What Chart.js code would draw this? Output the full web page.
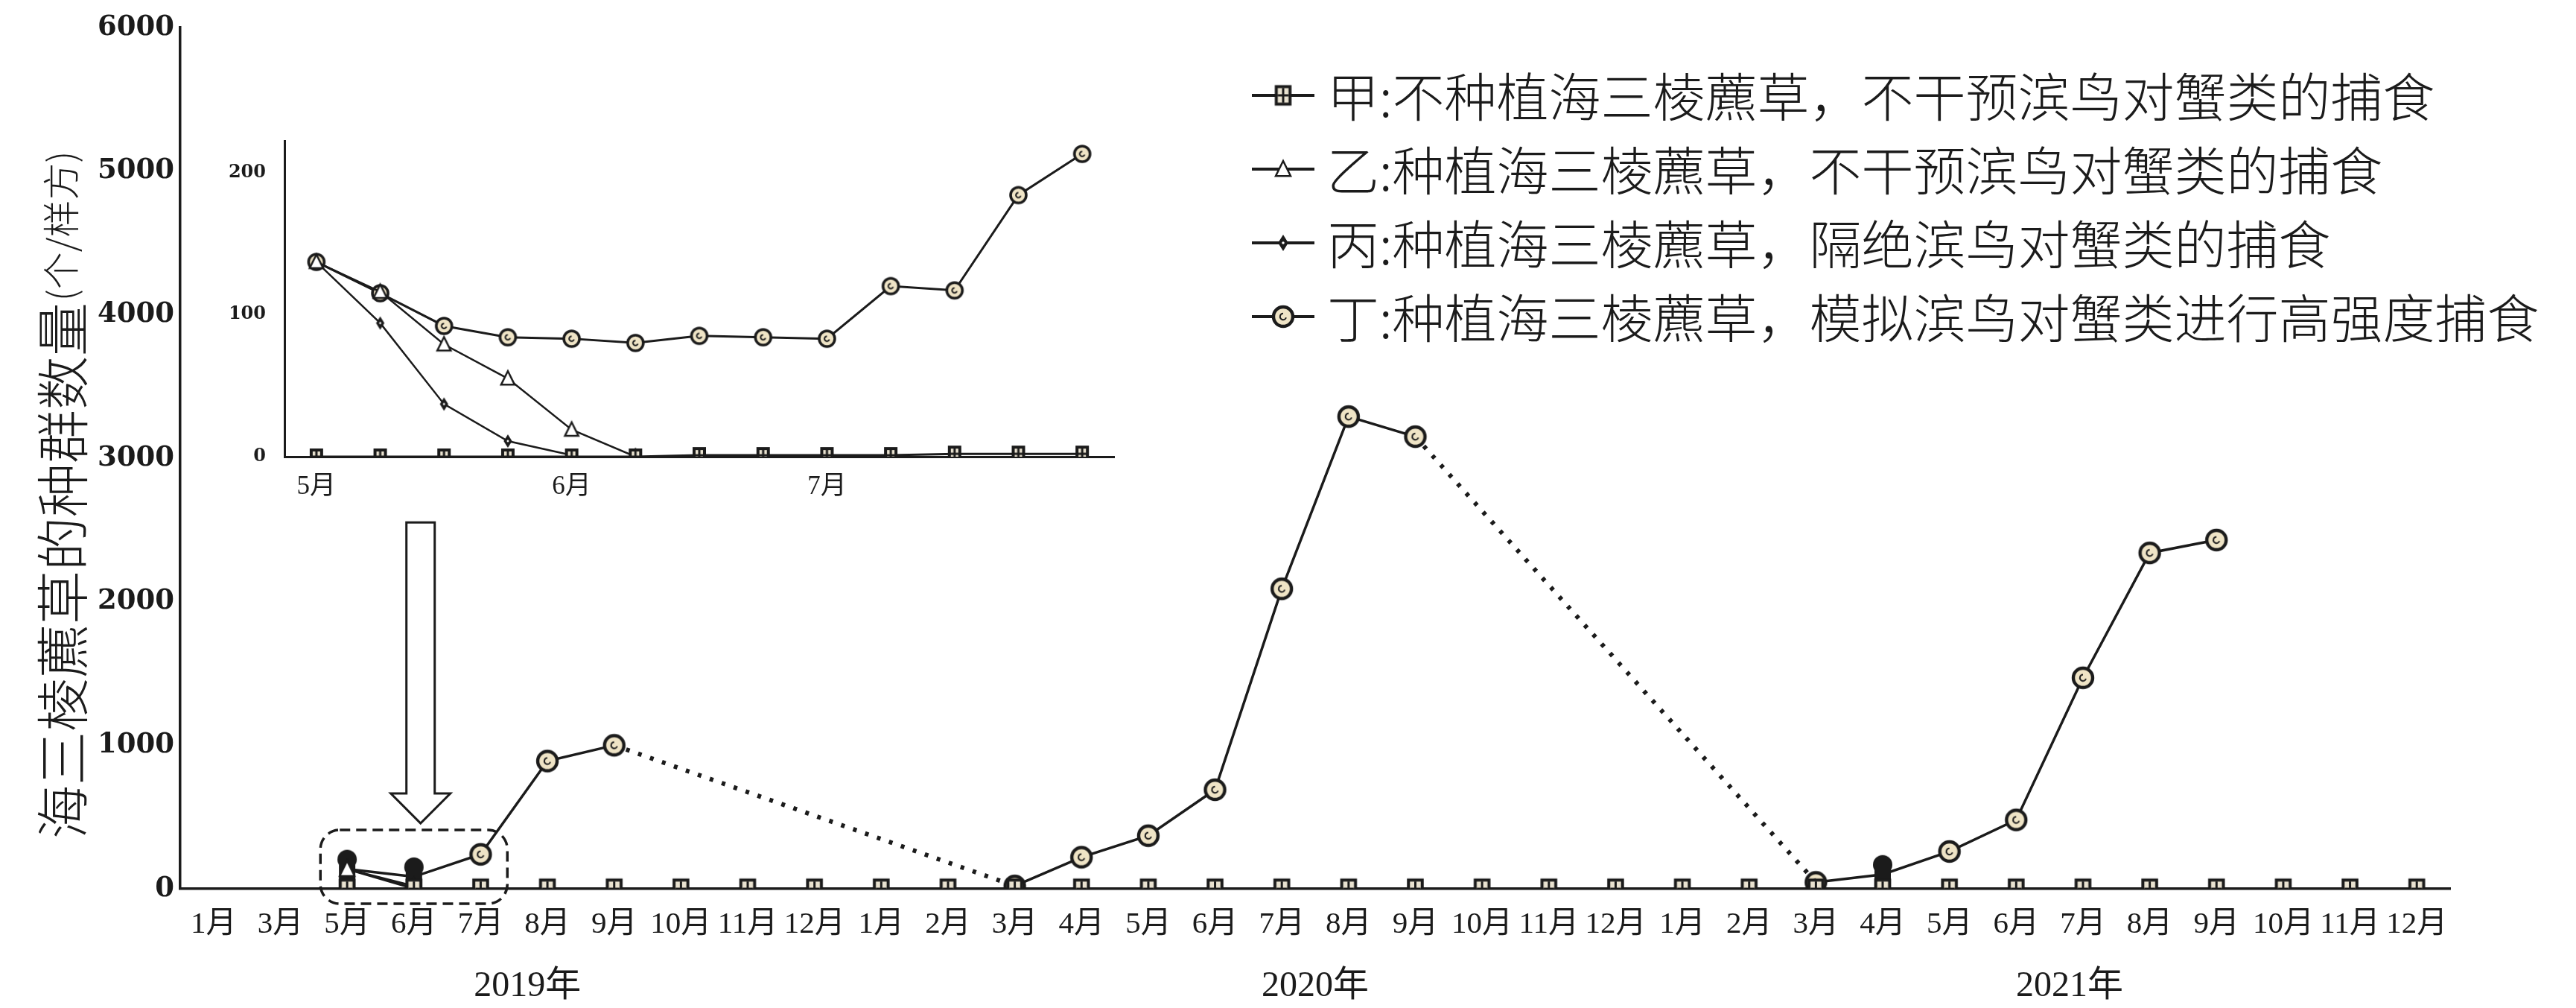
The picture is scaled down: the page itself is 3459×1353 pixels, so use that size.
<!DOCTYPE html>
<html>
<head>
<meta charset="utf-8">
<script src="https://cdn.jsdelivr.net/npm/chart.js@4.4.0/dist/chart.umd.min.js"></script>
<style>
  html, body { margin: 0; padding: 0; background: #fff; }
  #wrap { position: relative; width: 3459px; height: 1353px; background: #fff; }
  #mainChart { position: absolute; left: 0; top: 0; }
  #insetChart { position: absolute; left: 260px; top: 150px; }
</style>
</head>
<body>
<div id="wrap">
  <canvas id="mainChart" width="3459" height="1353"></canvas>
  <canvas id="insetChart" width="1260" height="540"></canvas>
</div>
<script>
// Data
const monthLabels = ['1月', '3月', '5月', '6月', '7月', '8月', '9月', '10月', '11月', '12月',
  '1月', '2月', '3月', '4月', '5月', '6月', '7月', '8月', '9月', '10月', '11月', '12月',
  '1月', '2月', '3月', '4月', '5月', '6月', '7月', '8月', '9月', '10月', '11月', '12月'];
const yearLabels = ['2019年', '2020年', '2021年'];
const yearLabelAt = [4.7, 16.5, 27.8];
const seriesNames = [
  '甲:不种植海三棱藨草，不干预滨鸟对蟹类的捕食',
  '乙:种植海三棱藨草，不干预滨鸟对蟹类的捕食',
  '丙:种植海三棱藨草，隔绝滨鸟对蟹类的捕食',
  '丁:种植海三棱藨草，模拟滨鸟对蟹类进行高强度捕食'
];
const yTitle = '海三棱藨草的种群数量';
const yTitleUnit = '(个/样方)';

const jiaMain = [null, null, 0, 0, 0, 0, 0, 0, 0, 0,
  0, 0, 0, 0, 0, 0, 0, 0, 0, 0, 0, 0,
  0, 0, 0, 0, 0, 0, 0, 0, 0, 0, 0, 0];
const yiMain = [null, null, 137, 18, null, null, null, null, null, null,
  null, null, null, null, null, null, null, null, null, null, null, null,
  null, null, null, null, null, null, null, null, null, null, null, null];
const bingMain = [null, null, 137, 1, null, null, null, null, null, null,
  null, null, null, null, null, null, null, null, null, null, null, null,
  null, null, null, null, null, null, null, null, null, null, null, null];
const dingMain = [null, null, 137, 84, 240, 890, 1000, null, null, null,
  null, null, 20, 220, 370, 690, 2090, 3290, 3150, null, null, null,
  null, null, 45, 100, 260, 480, 1470, 2340, 2430, null, null, null];

// inset (May - July 2019, roughly weekly)
const insetLabels = ['5月', '', '', '', '6月', '', '', '', '7月', '', '', '', ''];
const jiaInset = [0, 0, 0, 0, 0, 0, 1, 1, 1, 1, 2, 2, 2];
const yiInset = [137, 116, 79, 55, 19, 0, null, null, null, null, null, null, null];
const bingInset = [137, 94, 37, 11, 1, null, null, null, null, null, null, null, null];
const dingInset = [137, 115, 92, 84, 83, 80, 85, 84, 83, 120, 117, 184, 213];

const INK = '#1b1b1b';
const CREAM = '#efe4c6';

// Marker images
function makeMarker(kind, s) {
  const c = document.createElement('canvas');
  let w = s + 8, h = s + 10;
  if (kind === 'blob') { w = 30; h = 54; }
  c.width = w; c.height = h;
  const g = c.getContext('2d');
  const cx = w / 2, cy = h / 2;
  g.strokeStyle = INK;
  g.fillStyle = INK;
  if (kind === 'square') {
    const rw = s * 0.9, rh = s * 1.1;
    g.fillRect(cx - rw / 2, cy - rh / 2, rw, rh);
    g.fillStyle = '#e9e2d0';
    g.fillRect(cx - rw / 2 + 4, cy - rh / 2 + 4, rw - 8, rh - 8);
    g.fillStyle = INK;
    g.fillRect(cx - rw / 2 + 4, cy - 1.5, rw - 8, 3);
    g.fillRect(cx - 1.5, cy - rh / 2 + 4, 3, rh - 8);
  } else if (kind === 'circle') {
    g.beginPath();
    g.arc(cx, cy, s / 2, 0, Math.PI * 2);
    g.fillStyle = CREAM;
    g.fill();
    g.lineWidth = Math.max(3, s * 0.17);
    g.stroke();
    g.beginPath();
    g.lineWidth = 2;
    g.arc(cx, cy, s * 0.16, 0.3, Math.PI * 1.5);
    g.stroke();
  } else if (kind === 'tri') {
    g.beginPath();
    g.moveTo(cx, cy - s / 2);
    g.lineTo(cx + s / 2.2, cy + s / 2.4);
    g.lineTo(cx - s / 2.2, cy + s / 2.4);
    g.closePath();
    g.fillStyle = '#fff';
    g.fill();
    g.lineWidth = 2.5;
    g.stroke();
  } else if (kind === 'diamond') {
    g.beginPath();
    g.moveTo(cx, cy - s / 2);
    g.lineTo(cx + s / 3.2, cy);
    g.lineTo(cx, cy + s / 2);
    g.lineTo(cx - s / 3.2, cy);
    g.closePath();
    g.fill();
    g.fillStyle = '#fff';
    g.beginPath();
    g.arc(cx, cy, s * 0.08, 0, Math.PI * 2);
    g.fill();
  } else if (kind === 'blob') {
    g.beginPath();
    g.ellipse(cx, 14, 13, 13, 0, 0, Math.PI * 2);
    g.fill();
    g.fillRect(cx - 11, 14, 22, h - 14);
  }
  return c;
}

const mk = {
  square: makeMarker('square', 25),
  circle: makeMarker('circle', 26),
  tri: makeMarker('tri', 22),
  diamond: makeMarker('diamond', 22),
  blob: makeMarker('blob', 0),
  sSquare: makeMarker('square', 20),
  sCircle: makeMarker('circle', 21),
  sTri: makeMarker('tri', 20),
  sDiamond: makeMarker('diamond', 18)
};

Chart.defaults.font.family = '"Liberation Serif", "Noto Sans CJK SC", serif';
Chart.defaults.color = INK;

// a segment that jumps over missing months is drawn dotted
function spansGap(ctx) {
  const data = ctx.chart.data.datasets[ctx.datasetIndex].data;
  return data[ctx.p0DataIndex] === null || data[ctx.p0DataIndex] === undefined;
}
const dotted = ctx => (spansGap(ctx) ? [5, 12] : undefined);
const dottedWidth = ctx => (spansGap(ctx) ? 6 : undefined);

function line(label, data, style, width) {
  return {
    label, data,
    borderColor: INK,
    backgroundColor: INK,
    borderWidth: width,
    pointStyle: style,
    pointRadius: 12,
    tension: 0,
    fill: false,
    spanGaps: true,
    segment: { borderDash: dotted, borderWidth: dottedWidth }
  };
}

// Extra drawing for the main chart: title, years, box, arrow, legend
const mainDecor = {
  id: 'mainDecor',
  afterDraw(chart) {
    const { ctx, scales: { x, y } } = chart;
    ctx.save();
    ctx.fillStyle = INK;
    ctx.strokeStyle = INK;

    // y axis title
    ctx.save();
    ctx.translate(84, 1126);
    ctx.rotate(-Math.PI / 2);
    ctx.textAlign = 'left';
    ctx.textBaseline = 'middle';
    ctx.font = '300 72px "Noto Sans CJK SC"';
    ctx.fillText(yTitle, 0, 0);
    const tw = ctx.measureText(yTitle).width;
    ctx.font = '300 50px "Noto Sans CJK SC"';
    ctx.fillText(yTitleUnit, tw + 2, -2);
    ctx.restore();

    // year labels
    ctx.font = '48px "Liberation Serif", "Noto Sans CJK SC"';
    ctx.textAlign = 'center';
    ctx.textBaseline = 'middle';
    yearLabels.forEach((t, i) => ctx.fillText(t, x.getPixelForValue(yearLabelAt[i]), 1324));

    // dashed box round May-July 2019
    const bx0 = x.getPixelForValue(1.6), bx1 = x.getPixelForValue(4.4);
    const by0 = y.getPixelForValue(410), by1 = y.getPixelForValue(-104);
    ctx.setLineDash([14, 8]);
    ctx.lineWidth = 3.5;
    ctx.beginPath();
    ctx.roundRect(bx0, by0, bx1 - bx0, by1 - by0, 26);
    ctx.stroke();
    ctx.setLineDash([]);

    // hollow arrow from inset down to the box
    const ax = x.getPixelForValue(3.1);
    const aTop = y.getPixelForValue(2552), aNeck = y.getPixelForValue(664), aTip = y.getPixelForValue(456);
    ctx.lineWidth = 3;
    ctx.beginPath();
    ctx.moveTo(ax - 19, aTop);
    ctx.lineTo(ax + 19, aTop);
    ctx.lineTo(ax + 19, aNeck);
    ctx.lineTo(ax + 40, aNeck);
    ctx.lineTo(ax, aTip);
    ctx.lineTo(ax - 40, aNeck);
    ctx.lineTo(ax - 19, aNeck);
    ctx.closePath();
    ctx.fillStyle = '#fff';
    ctx.fill();
    ctx.stroke();
    ctx.fillStyle = INK;

    // legend
    const legendMarks = [mk.square, mk.tri, mk.diamond, mk.circle];
    ctx.font = '300 70px "Noto Sans CJK SC"';
    ctx.textAlign = 'left';
    ctx.textBaseline = 'middle';
    seriesNames.forEach((name, i) => {
      const ly = 128 + i * 99;
      ctx.lineWidth = 4;
      ctx.beginPath();
      ctx.moveTo(1681, ly);
      ctx.lineTo(1765, ly);
      ctx.stroke();
      const img = legendMarks[i];
      ctx.drawImage(img, 1723 - img.width / 2, ly - img.height / 2);
      ctx.fillText(name, 1782, ly + 2);
    });
    ctx.restore();
  }
};

const filledAt = [2, 3, 25];

new Chart(document.getElementById('mainChart'), {
  type: 'line',
  data: {
    labels: monthLabels,
    datasets: [
      line(seriesNames[0], jiaMain, mk.square, 3.5),
      line(seriesNames[1], yiMain, mk.tri, 3),
      line(seriesNames[2], bingMain, mk.diamond, 3),
      Object.assign(line(seriesNames[3], dingMain, mk.circle, 3.5), {
        pointStyle: ctx => (filledAt.includes(ctx.dataIndex) ? mk.blob : mk.circle)
      })
    ]
  },
  options: {
    responsive: false,
    animation: false,
    devicePixelRatio: 1,
    layout: { padding: { left: 0, top: 37, right: 169, bottom: 0 } },
    plugins: { legend: { display: false }, tooltip: { enabled: false } },
    scales: {
      x: {
        type: 'category',
        offset: true,
        grid: { display: false, drawTicks: false },
        border: { display: true, color: INK, width: 3.5 },
        ticks: {
          autoSkip: false, maxRotation: 0, padding: 24, color: INK,
          font: { family: '"Liberation Serif", "Noto Sans CJK SC"', size: 41 }
        },
        afterFit: s => { s.height = 160; }
      },
      y: {
        min: 0, max: 6000,
        grid: { display: false, drawTicks: false },
        border: { display: true, color: INK, width: 3.5 },
        ticks: {
          stepSize: 1000, padding: 8, color: INK,
          callback: v => String(v),
          font: { family: '"DejaVu Serif"', size: 37, weight: 'bold' }
        },
        afterFit: s => { s.width = 242; }
      }
    }
  },
  plugins: [mainDecor]
});

// Inset chart
new Chart(document.getElementById('insetChart'), {
  type: 'line',
  data: {
    labels: insetLabels,
    datasets: [
      line(seriesNames[0], jiaInset, mk.sSquare, 3),
      line(seriesNames[1], yiInset, mk.sTri, 2.5),
      line(seriesNames[2], bingInset, mk.sDiamond, 2.5),
      line(seriesNames[3], dingInset, mk.sCircle, 3)
    ]
  },
  options: {
    responsive: false,
    animation: false,
    devicePixelRatio: 1,
    layout: { padding: { left: 0, top: 22, right: 24, bottom: 0 } },
    plugins: { legend: { display: false }, tooltip: { enabled: false } },
    scales: {
      x: {
        type: 'category',
        offset: true,
        grid: { display: false, drawTicks: false },
        border: { display: true, color: INK, width: 3 },
        ticks: {
          autoSkip: false, maxRotation: 0, padding: 20, color: INK,
          font: { family: '"Liberation Serif", "Noto Sans CJK SC"', size: 35 }
        },
        afterFit: s => { s.height = 77; }
      },
      y: {
        min: 0, max: 222,
        grid: { display: false, drawTicks: false },
        border: { display: true, color: INK, width: 3 },
        ticks: {
          stepSize: 100, includeBounds: false, padding: 25, color: INK,
          font: { family: '"DejaVu Serif"', size: 24, weight: 'bold' }
        },
        afterFit: s => { s.width = 122; }
      }
    }
  }
});
</script>
</body>
</html>
